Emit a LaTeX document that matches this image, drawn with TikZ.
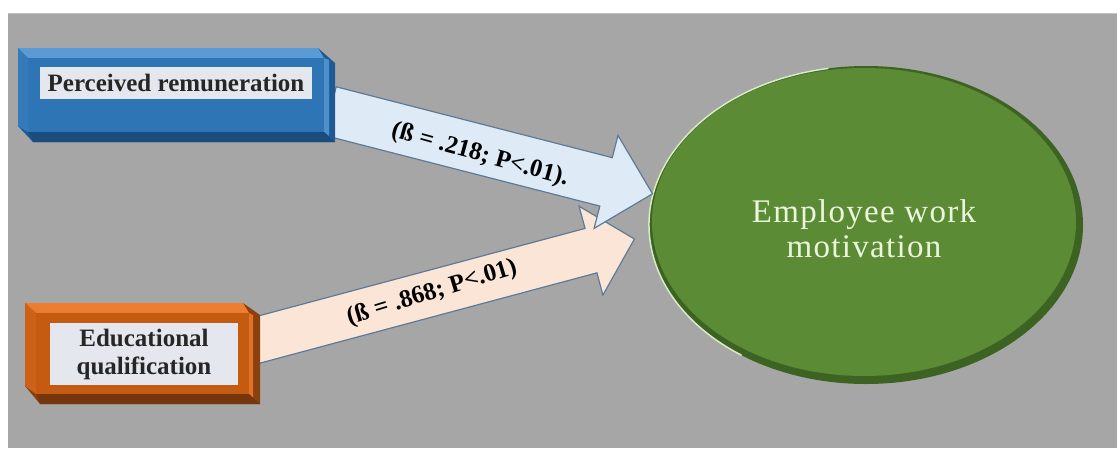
\documentclass[tikz,border=0pt]{standalone}
\usepackage{fontspec}
\setmainfont{Liberation Serif}
\definecolor{bg}{HTML}{A6A6A6}
\definecolor{bmid}{HTML}{2E75B6}
\definecolor{blight}{HTML}{5B9BD5}
\definecolor{bdark}{HTML}{1F5A94}
\definecolor{strip}{HTML}{E4E8EE}
\definecolor{omid}{HTML}{C55A11}
\definecolor{olight}{HTML}{ED7D31}
\definecolor{odark}{HTML}{8A400F}
\definecolor{gmid}{HTML}{5B8B35}
\definecolor{gdark}{HTML}{3C6322}
\definecolor{glight}{HTML}{D8EAC6}
\definecolor{aline}{HTML}{5E7A96}
\definecolor{afillb}{HTML}{DEEBF7}
\definecolor{afillo}{HTML}{FBE5D6}
\definecolor{etext}{HTML}{EBF5DC}
\tikzset{
  blockarrow/.style={draw=aline, line width=1.2pt, line join=miter},
  lbl/.style={font=\bfseries\fontsize{25}{28}\selectfont, text=black, inner sep=0pt},
  boxtext/.style={font=\bfseries\fontsize{25}{28}\selectfont, text=black!85, align=center, inner sep=0pt},
  ewmtext/.style={font=\fontsize{33}{35}\selectfont\addfontfeatures{LetterSpace=4}, text=etext, align=center, inner sep=0pt}
}
\begin{document}
\begin{tikzpicture}[x=1pt,y=-1pt]
\useasboundingbox (0,0) rectangle (1117,448);
\fill[white] (0,0) rectangle (1117,448);
\fill[bg] (8,13) rectangle (1117,448);
\draw[bg!70!white, line width=1pt] (8,13.5) -- (1117,13.5);

% ellipse
\fill[gdark] (866,225) ellipse [x radius=217pt, y radius=159pt];
\fill[gmid] (864,222) ellipse [x radius=212pt, y radius=154pt];
\draw[glight, line width=1.5pt] (866,225) ++(100:217pt and 159pt) arc [start angle=100, end angle=235, x radius=217pt, y radius=159pt];
\node[ewmtext] (ewm) at (864,229) {Employee work\\motivation};

% orange arrow
\begin{scope}[shift={(250,342)}, rotate=15]
  \draw[blockarrow, fill=afillo] (0,-23) -- (353,-23) -- (353,-46) -- (398,0) -- (353,46) -- (353,23) -- (0,23) -- cycle;
\end{scope}
% blue arrow
\begin{scope}[shift={(330,111)}, rotate=-14.4]
  \draw[blockarrow, fill=afillb] (0,-25) -- (285,-25) -- (285,-48) -- (333,0) -- (285,48) -- (285,25) -- (0,25) -- cycle;
\end{scope}
\node[lbl, rotate=-15.5] (l1) at (480,155) {(ß = .218; P<.01).};
\node[lbl, rotate=17] (l2) at (432,293) {(ß = .868; P<.01)};

% blue box
\fill[bdark] (18,48) -- (318,48) -- (335,63) -- (335,142) -- (33,142) -- (18,126) -- cycle;
\fill[blight] (18,48) -- (318,48) -- (324,58) -- (28,58) -- cycle;
\fill[bmid!85!blight] (18,48) -- (28,58) -- (28,132) -- (18,126) -- cycle;
\fill[bmid] (28,58) rectangle (324,132);
\fill[blight!70!bmid] (324,58) -- (329,60) -- (329,136) -- (324,132) -- cycle;
\fill[bdark!85!black] (28,132) -- (324,132) -- (335,142) -- (33,142) -- cycle;
\fill[strip] (40,67) rectangle (312,99);
\node[boxtext] (pr) at (176,83) {Perceived remuneration};

% orange box
\fill[odark] (25,303) -- (243,303) -- (260,315) -- (260,404) -- (40,404) -- (25,386) -- cycle;
\fill[olight] (25,303) -- (243,303) -- (249,313) -- (36,313) -- cycle;
\fill[omid!80!olight] (25,303) -- (36,313) -- (36,394) -- (25,386) -- cycle;
\fill[omid] (36,313) rectangle (249,394);
\fill[olight!70!omid] (249,313) -- (253,315) -- (253,398) -- (249,394) -- cycle;
\fill[odark!85!black] (36,394) -- (249,394) -- (260,404) -- (40,404) -- cycle;
\fill[strip] (50,323) rectangle (238,385);
\node[boxtext] (eq) at (144,354) {Educational\\qualification};
\end{tikzpicture}
\end{document}
